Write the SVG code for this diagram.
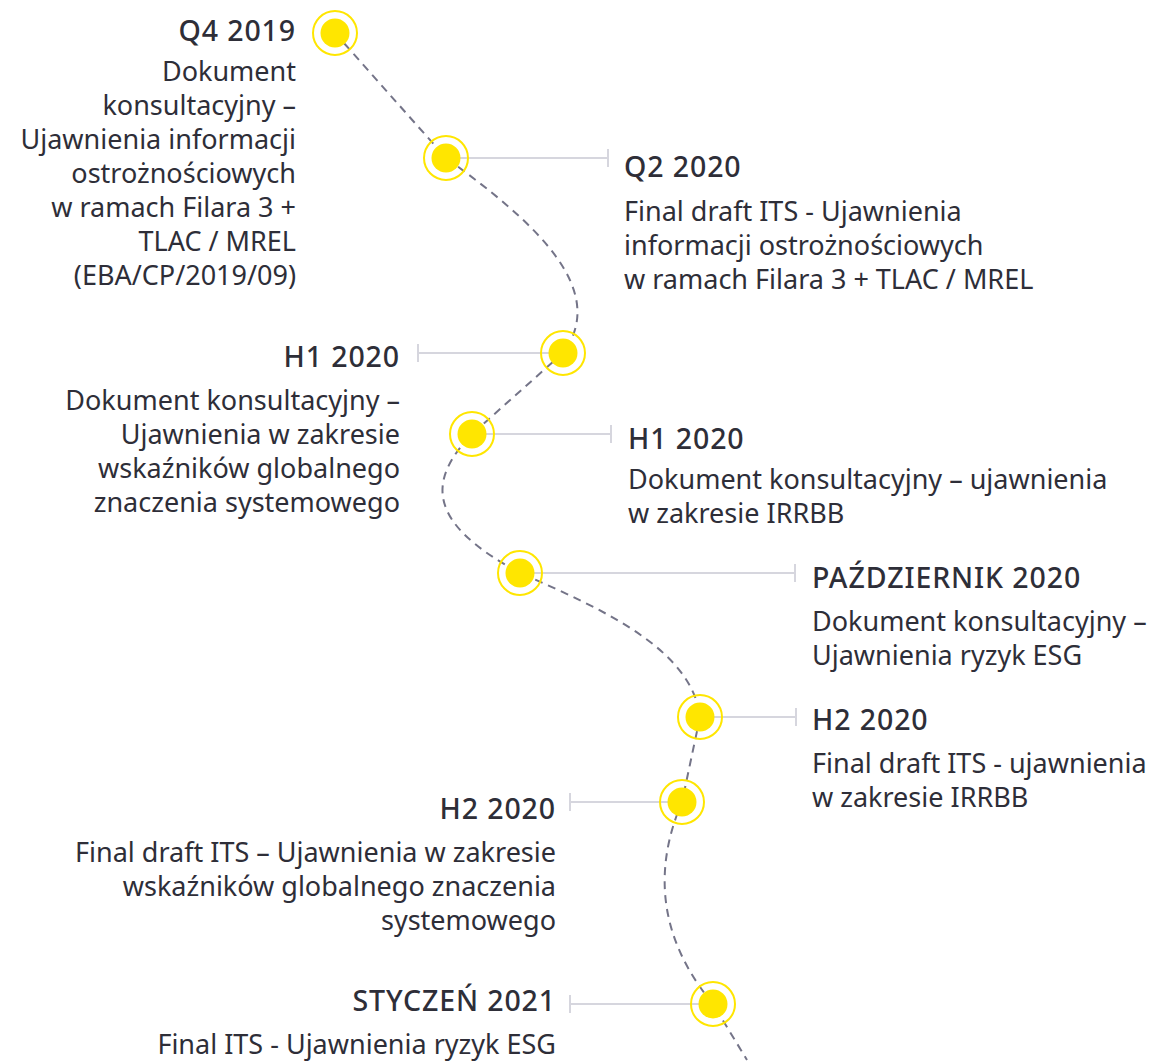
<svg xmlns="http://www.w3.org/2000/svg" width="1166" height="1062" viewBox="0 0 1166 1062">
<style>
.t{font-family:"Noto Sans","Liberation Sans",sans-serif;font-size:27px;fill:#2e2e38}
.h{font-family:"Noto Sans","Liberation Sans",sans-serif;font-size:28.5px;font-weight:500;letter-spacing:0.9px;fill:#2e2e38}
.r{text-anchor:end}
.ring{fill:none;stroke:#ffe600;stroke-width:2}
.dot{fill:#ffe600}
.lk{stroke:#d6d6de;stroke-width:2;fill:none}
.path{stroke:#747488;stroke-width:2;stroke-dasharray:8 6;fill:none}
</style>
<rect width="1166" height="1062" fill="#fff"/>
<g id="connectors">
<path class="path" d="M335,33 L446,158 C535,222 610,290 563,353 L472,434 C428,480 425,522 520,573 C605,610 692,650 700,717 L682,802 C652,872 660,940 713,1004 L747,1060"/>
<path class="lk" d="M446,158 H608 M608,149 V167"/>
<path class="lk" d="M563,353 H418 M418,344 V362"/>
<path class="lk" d="M472,434 H611 M611,425 V443"/>
<path class="lk" d="M520,573 H795 M795,564 V582"/>
<path class="lk" d="M700,717 H796 M796,708 V726"/>
<path class="lk" d="M682,802 H570 M570,793 V811"/>
<path class="lk" d="M713,1004 H570 M570,995 V1013"/>
</g>
<g id="n1"><circle class="ring" cx="335" cy="33" r="22"/><circle class="dot" cx="335" cy="33" r="14.5"/>
<text class="h r" x="296" y="41">Q4 2019</text>
<text class="t r" x="296"><tspan x="296" y="81">Dokument</tspan><tspan x="296" y="115">konsultacyjny –</tspan><tspan x="296" y="149">Ujawnienia informacji</tspan><tspan x="296" y="183">ostrożnościowych</tspan><tspan x="296" y="217">w ramach Filara 3 +</tspan><tspan x="296" y="251">TLAC / MREL</tspan><tspan x="296" y="285">(EBA/CP/2019/09)</tspan></text></g>
<g id="n2"><circle class="ring" cx="446" cy="158" r="22"/><circle class="dot" cx="446" cy="158" r="14.5"/>
<text class="h" x="624" y="177">Q2 2020</text>
<text class="t"><tspan x="624" y="221">Final draft ITS - Ujawnienia</tspan><tspan x="624" y="255">informacji ostrożnościowych</tspan><tspan x="624" y="289">w ramach Filara 3 + TLAC / MREL</tspan></text></g>
<g id="n3"><circle class="ring" cx="563" cy="353" r="22"/><circle class="dot" cx="563" cy="353" r="14.5"/>
<text class="h r" x="400" y="367">H1 2020</text>
<text class="t r"><tspan x="400" y="410">Dokument konsultacyjny –</tspan><tspan x="400" y="444">Ujawnienia w zakresie</tspan><tspan x="400" y="478">wskaźników globalnego</tspan><tspan x="400" y="512">znaczenia systemowego</tspan></text></g>
<g id="n4"><circle class="ring" cx="472" cy="434" r="22"/><circle class="dot" cx="472" cy="434" r="14.5"/>
<text class="h" x="628" y="449">H1 2020</text>
<text class="t"><tspan x="628" y="489">Dokument konsultacyjny – ujawnienia</tspan><tspan x="628" y="523">w zakresie IRRBB</tspan></text></g>
<g id="n5"><circle class="ring" cx="520" cy="573" r="22"/><circle class="dot" cx="520" cy="573" r="14.5"/>
<text class="h" x="812" y="588">PAŹDZIERNIK 2020</text>
<text class="t"><tspan x="812" y="631">Dokument konsultacyjny –</tspan><tspan x="812" y="665">Ujawnienia ryzyk ESG</tspan></text></g>
<g id="n6"><circle class="ring" cx="700" cy="717" r="22"/><circle class="dot" cx="700" cy="717" r="14.5"/>
<text class="h" x="812" y="730">H2 2020</text>
<text class="t"><tspan x="812" y="773">Final draft ITS - ujawnienia</tspan><tspan x="812" y="807">w zakresie IRRBB</tspan></text></g>
<g id="n7"><circle class="ring" cx="682" cy="802" r="22"/><circle class="dot" cx="682" cy="802" r="14.5"/>
<text class="h r" x="556" y="819">H2 2020</text>
<text class="t r"><tspan x="556" y="862">Final draft ITS – Ujawnienia w zakresie</tspan><tspan x="556" y="896">wskaźników globalnego znaczenia</tspan><tspan x="556" y="930">systemowego</tspan></text></g>
<g id="n8"><circle class="ring" cx="713" cy="1004" r="22"/><circle class="dot" cx="713" cy="1004" r="14.5"/>
<text class="h r" x="556" y="1011">STYCZEŃ 2021</text>
<text class="t r"><tspan x="556" y="1054">Final ITS - Ujawnienia ryzyk ESG</tspan></text></g>
</svg>
